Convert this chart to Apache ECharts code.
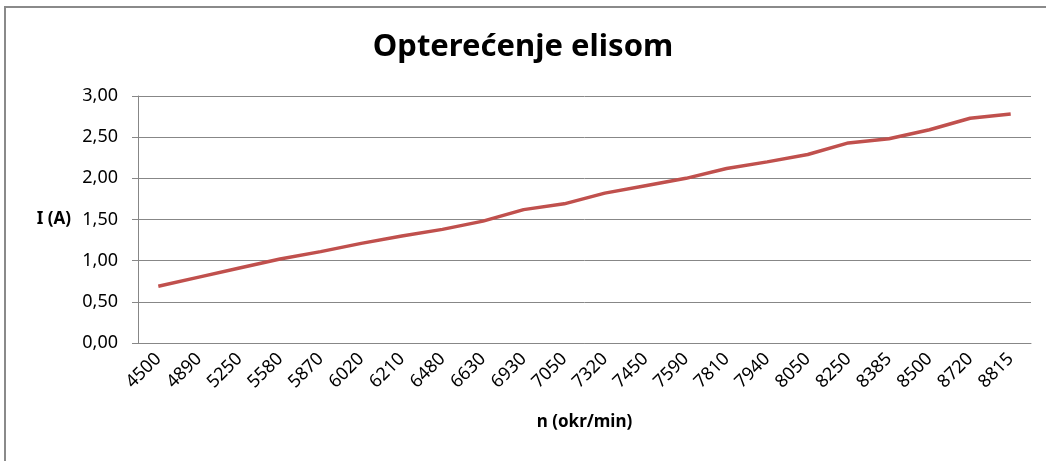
<!DOCTYPE html>
<html>
<head>
<meta charset="utf-8">
<script src="https://cdn.jsdelivr.net/npm/echarts@6/dist/echarts.min.js"></script>
<style>
  html, body { margin: 0; padding: 0; background: #fff; }
  #chart { width: 1046px; height: 461px; }
</style>
</head>
<body>
<div id="chart"></div>
<script>
// brzina vrtnje n (okr/min)
var categories = ['4500','4890','5250','5580','5870','6020','6210','6480','6630','6930','7050',
                  '7320','7450','7590','7810','7940','8050','8250','8385','8500','8720','8815'];
// struja I (A)
var current = [0.69, 0.80, 0.91, 1.02, 1.11, 1.21, 1.30, 1.38, 1.48, 1.62, 1.69,
               1.82, 1.91, 2.00, 2.12, 2.20, 2.29, 2.43, 2.48, 2.59, 2.73, 2.78];
var yTicks = [0, 3, 0.5];  // min, max, interval

var chart = echarts.init(document.getElementById('chart'));
var font = 'Noto Sans';
var gray = '#878787';

chart.setOption({
    animation: false,
    graphic: [{
        type: 'rect',
        shape: { x: 5, y: 7, width: 1060, height: 480 },
        style: { fill: 'none', stroke: '#8a8a8a', lineWidth: 2 }
    }],
    title: {
        text: 'Opterećenje elisom',
        left: 'center',
        top: 27,
        textStyle: { fontFamily: font, fontSize: 31, fontWeight: 'bold', color: '#000' }
    },
    grid: { left: 138, right: 15, top: 96, bottom: 118 },
    xAxis: {
        type: 'category',
        data: categories,
        boundaryGap: true,
        name: 'n (okr/min)',
        nameLocation: 'middle',
        nameGap: 71,
        nameTextStyle: { fontFamily: font, fontSize: 17, fontWeight: 'bold', color: '#000' },
        axisLine: { lineStyle: { color: gray, width: 1 } },
        axisTick: { alignWithLabel: false, length: 6, lineStyle: { color: gray } },
        axisLabel: {
            rotate: 45, interval: 0, margin: 13,
            fontFamily: font, fontSize: 18, color: '#000'
        }
    },
    yAxis: {
        type: 'value',
        min: yTicks[0],
        max: yTicks[1],
        interval: yTicks[2],
        name: 'I (A)',
        nameLocation: 'middle',
        nameRotate: 0,
        nameGap: 67,
        nameTextStyle: { fontFamily: font, fontSize: 17, fontWeight: 'bold', color: '#000' },
        axisLine: { show: true, lineStyle: { color: gray, width: 1 } },
        axisTick: { show: true, length: 6, lineStyle: { color: gray } },
        axisLabel: {
            margin: 20,
            fontFamily: font, fontSize: 18, color: '#000',
            formatter: function (v) { return v.toFixed(2).replace('.', ','); }
        },
        splitLine: { lineStyle: { color: gray, width: 1 } }
    },
    series: [{
        name: 'I (A)',
        type: 'line',
        data: current,
        showSymbol: false,
        lineStyle: { color: '#c0504d', width: 3.5 },
        itemStyle: { color: '#c0504d' }
    }]
});
</script>
</body>
</html>
